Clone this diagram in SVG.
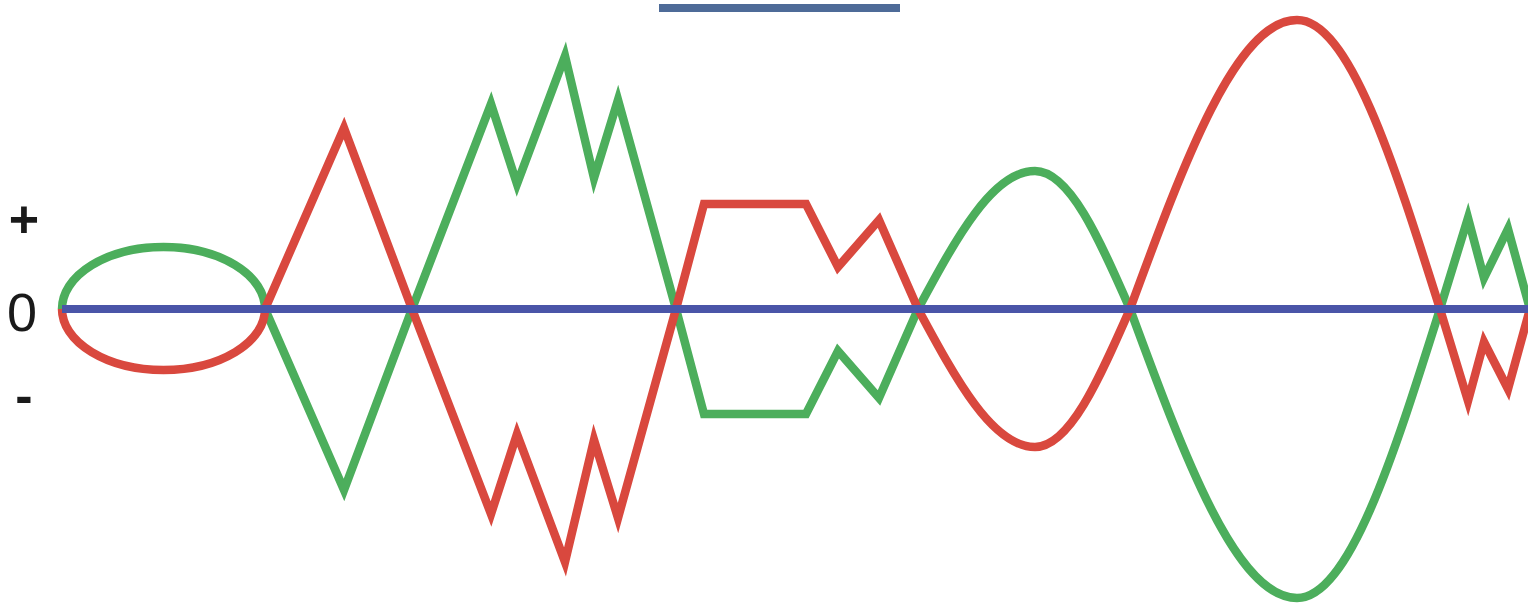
<svg xmlns="http://www.w3.org/2000/svg" width="1528" height="603" viewBox="0 0 1528 603">
  <style>
    .wave { fill: none; stroke-width: 8.5; stroke-linejoin: miter; stroke-miterlimit: 10; }
    .green { stroke: #4CAE5C; }
    .red { stroke: #D9483E; }
    .axis { stroke: #4A55A8; stroke-width: 8; }
    .lbl { font-family: "Liberation Sans", Arial, sans-serif; fill: #1a1a1a; text-anchor: middle; }
  </style>
  <rect width="1528" height="603" fill="#ffffff"/>
  <g id="top-bar">
    <rect x="659" y="4" width="241" height="8" fill="#4E6B98"/>
  </g>
  <g id="labels">
    <text class="lbl" x="24" y="237" font-size="52" font-weight="bold">+</text>
    <text class="lbl" x="22" y="331" font-size="54">0</text>
    <text class="lbl" x="24" y="413" font-size="52" font-weight="bold">-</text>
  </g>
  <g id="connectors">
    <path id="green-wave" class="wave green" d="M62,309 A101.5,62 0 0 1 265,309 L344,490 L412,309 L491,104 L517,184 L565,56 L594,178 L618,100 L676,309 L704,414 L806,414 L838,351 L879,398 L918,309 C956.1,238.3 992.6,171 1035,171 C1069.4,171 1099,238.3 1130,309 C1184.4,457 1236.5,598 1297,598 C1348.8,598 1393.4,457 1440,309 L1468,218 L1484,278 L1508,229 L1530,309"/>
    <path id="red-wave" class="wave red" d="M62,309 A101.5,61 0 0 0 265,309 L344,128 L412,309 L491,514 L517,434 L565,562 L594,440 L618,518 L676,309 L704,204 L806,204 L838,267 L879,220 L918,309 C956.1,379.7 992.6,447 1035,447 C1069.4,447 1099,379.7 1130,309 C1184.4,161 1236.5,20 1297,20 C1348.8,20 1393.4,161 1440,309 L1468,401 L1484,342 L1508,389 L1530,309"/>
    <line id="axis" class="axis" x1="62" y1="309" x2="1528" y2="309"/>
  </g>
</svg>
